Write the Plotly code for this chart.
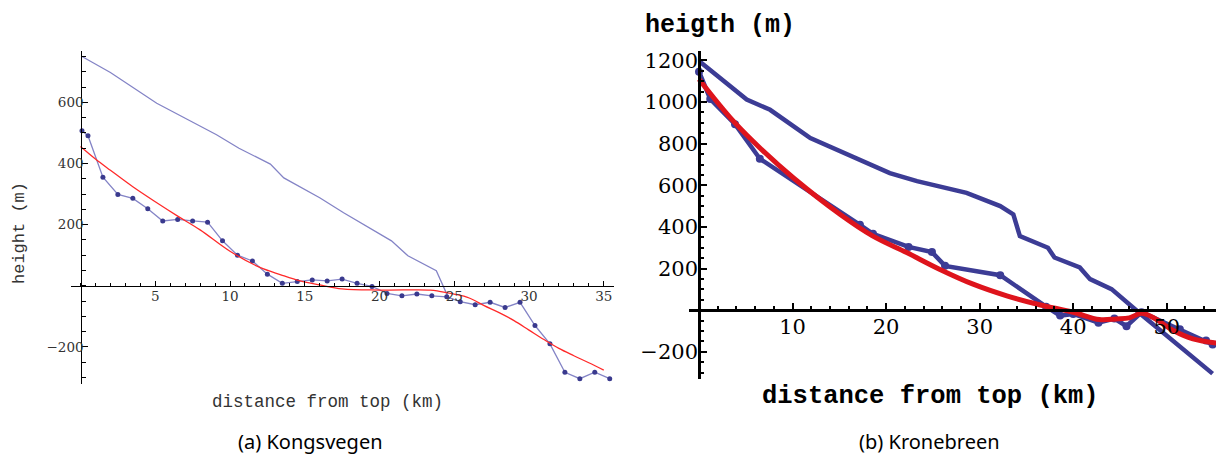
import plotly.graph_objects as go

# ---------------- data: (a) Kongsvegen ----------------
kv_top_x = [0.1, 2.0, 5.1, 9.1, 10.6, 12.7, 13.6, 16.0, 17.6, 20.8, 21.9, 23.8, 24.6]
kv_top_y = [750, 698, 597, 494, 450, 398, 353, 288, 239, 147, 98, 49, -38]

kv_bed_x = [0.1, 0.5, 1.5, 2.5, 3.5, 4.5, 5.5, 6.5, 7.5, 8.5, 9.5, 10.5, 11.5, 12.5,
            13.5, 14.5, 15.5, 16.5, 17.5, 18.5, 19.5, 20.5, 21.5, 22.5, 23.5, 24.5,
            25.4, 26.4, 27.4, 28.4, 29.4, 30.4, 31.4, 32.4, 33.4, 34.4, 35.4]
kv_bed_y = [507, 491, 355, 299, 286, 252, 212, 217, 212, 208, 147, 100, 81, 38,
            8, 14, 19, 16, 22, 8, -2, -25, -33, -27, -33, -36,
            -52, -62, -54, -71, -54, -130, -190, -283, -304, -283, -304]

kv_fit_x = [0, 1, 2, 3.5, 5, 6.5, 8, 10, 12, 13.4, 14.7, 16, 17.5, 20, 23.4, 24, 25,
            26, 27, 28, 29, 30, 31, 32, 33, 34, 35]
kv_fit_y = [456, 415, 378, 324, 275, 228, 183, 113, 60, 36, 16, 3, -10, -14, -14, -18, -27,
            -40, -65, -88, -114, -145, -176, -205, -229, -252, -276]

kv_xticks = [5, 10, 15, 20, 25, 30, 35]
kv_yticks = [-200, 200, 400, 600]

# ---------------- data: (b) Kronebreen ----------------
kb_top_x = [0.1, 5.1, 7.6, 11.9, 20.4, 23.3, 28.6, 32.2, 33.6, 34.3, 37.3, 38.0,
            40.7, 41.8, 44.1, 46.4, 47.3, 54.9]
kb_top_y = [1194, 1012, 963, 827, 659, 620, 564, 500, 460, 356, 300, 253,
            205, 149, 101, 13, -22, -305]

kb_bed_x = [0.0, 1.2, 3.85, 6.5, 17.2, 18.6, 22.4, 24.9, 26.3, 32.2, 37.1, 38.6,
            40.0, 42.7, 44.4, 45.7, 47.3, 51.4, 54.2, 54.9]
kb_bed_y = [1146, 1015, 894, 728, 410, 367, 304, 279, 213, 168, 17, -26,
            -18, -60, -40, -77, -10, -92, -146, -165]

kb_fit_x = [0, 3.7, 6.9, 10.1, 15.1, 18.6, 22.2, 25.7, 29.3, 32.9, 36.4, 40.0,
            42.8, 44.6, 46.0, 47.3, 48.5, 50.7, 52.8, 56.0]
kb_fit_y = [1110, 907, 763, 635, 460, 356, 277, 197, 125, 69, 26, -10,
            -45, -42, -37, -15, -34, -98, -138, -162]

kb_xticks = [10, 20, 30, 40, 50]
kb_yticks = [-200, 200, 400, 600, 800, 1000, 1200]

# ---------------- geometry (reference pixels) ----------------
OFF = 8                      # page body margin
FW, FH = 1224 - OFF, 459 - OFF

def px(x):
    return (x - OFF) / FW

def py(y):
    return 1 - (y - OFF) / FH

# left panel
L_x0, L_ppx = 80.5, 14.95      # pixel of x=0, pixels per km
L_y0, L_ppy = 285.0, 0.307     # pixel of y=0, pixels per m
L_dom_x = (71, 614)
L_dom_y = (49, 384)
L_xr = [(L_dom_x[0] - L_x0) / L_ppx, (L_dom_x[1] - L_x0) / L_ppx]
L_yr = [-(L_dom_y[1] - L_y0) / L_ppy, (L_y0 - L_dom_y[0]) / L_ppy]

# right panel
R_x0, R_ppx = 699.0, 9.355
R_y0, R_ppy = 309.5, 0.209
R_dom_x = (689, 1224)
R_dom_y = (49, 379)
R_xr = [(R_dom_x[0] - R_x0) / R_ppx, (R_dom_x[1] - R_x0) / R_ppx]
R_yr = [-(R_dom_y[1] - R_y0) / R_ppy, (R_y0 - R_dom_y[0]) / R_ppy]

fig = go.Figure()

L_BLUE_LINE = "#8484c6"
L_BLUE_MARK = "#3a3a8e"
L_RED = "#ff2a2a"
R_BLUE = "#3c3c95"
R_RED = "#de141c"

# left traces
fig.add_trace(go.Scatter(x=kv_top_x, y=kv_top_y, mode="lines",
                         line=dict(color=L_BLUE_LINE, width=1.3),
                         xaxis="x", yaxis="y", showlegend=False, hoverinfo="skip"))
fig.add_trace(go.Scatter(x=kv_bed_x, y=kv_bed_y, mode="lines+markers",
                         line=dict(color=L_BLUE_LINE, width=1.3),
                         marker=dict(color=L_BLUE_MARK, size=5),
                         xaxis="x", yaxis="y", showlegend=False, hoverinfo="skip"))
fig.add_trace(go.Scatter(x=kv_fit_x, y=kv_fit_y, mode="lines", line_shape="spline",
                         line=dict(color=L_RED, width=1.3),
                         xaxis="x", yaxis="y", showlegend=False, hoverinfo="skip"))

# right traces
fig.add_trace(go.Scatter(x=kb_top_x, y=kb_top_y, mode="lines",
                         line=dict(color=R_BLUE, width=4.5),
                         xaxis="x2", yaxis="y2", showlegend=False, hoverinfo="skip"))
fig.add_trace(go.Scatter(x=kb_bed_x, y=kb_bed_y, mode="lines+markers",
                         line=dict(color=R_BLUE, width=4.5),
                         marker=dict(color=R_BLUE, size=8),
                         xaxis="x2", yaxis="y2", showlegend=False, hoverinfo="skip"))
fig.add_trace(go.Scatter(x=kb_fit_x, y=kb_fit_y, mode="lines", line_shape="spline",
                         line=dict(color=R_RED, width=5),
                         xaxis="x2", yaxis="y2", showlegend=False, hoverinfo="skip"))

L_TICKFONT = dict(family="DejaVu Serif", size=13.5, color="#333333")
R_TICKFONT = dict(family="DejaVu Serif", size=21, color="#000000")

common = dict(showgrid=False, zeroline=False, showline=True, linecolor="black",
              ticks="inside", tickcolor="black", tickmode="array", fixedrange=True)

fig.update_layout(
    width=FW, height=FH, autosize=False,
    margin=dict(l=0, r=0, t=0, b=0),
    paper_bgcolor="white", plot_bgcolor="white",
    xaxis=dict(domain=[px(L_dom_x[0]), px(L_dom_x[1])], range=L_xr,
               anchor="free", position=py(L_y0),
               tickvals=kv_xticks, ticklen=5, tickwidth=1, linewidth=1.3,
               tickfont=L_TICKFONT, ticklabelstandoff=-2,
               minor=dict(tick0=0, dtick=1, ticks="inside", ticklen=3,
                          tickwidth=1, tickcolor="black"),
               **common),
    yaxis=dict(domain=[py(L_dom_y[1]), py(L_dom_y[0])], range=L_yr,
               anchor="free", position=px(L_x0),
               tickvals=kv_yticks, ticklen=6, tickwidth=1, linewidth=1.3,
               tickfont=L_TICKFONT, ticklabelstandoff=-6,
               minor=dict(tick0=0, dtick=50, ticks="inside", ticklen=4,
                          tickwidth=1, tickcolor="black"),
               **common),
    xaxis2=dict(domain=[px(R_dom_x[0]), px(R_dom_x[1])], range=R_xr,
                anchor="free", position=py(R_y0),
                tickvals=kb_xticks, ticklen=6, tickwidth=2, linewidth=2.6,
                tickfont=R_TICKFONT, ticklabelstandoff=-3,
                minor=dict(tick0=0, dtick=2, ticks="inside", ticklen=3.5,
                           tickwidth=2, tickcolor="black"),
                **common),
    yaxis2=dict(domain=[py(R_dom_y[1]), py(R_dom_y[0])], range=R_yr,
                anchor="free", position=px(R_x0),
                tickvals=kb_yticks, ticklen=6, tickwidth=2, linewidth=2.6,
                tickfont=R_TICKFONT, ticklabelstandoff=-4,
                minor=dict(tick0=0, dtick=50, ticks="inside", ticklen=3.5,
                           tickwidth=2, tickcolor="black"),
                **common),
)

MONO = "Liberation Mono, Courier New, monospace"
CAP = "Noto Sans, Open Sans, sans-serif"
annots = [
    dict(text="height (m)", x=px(19), y=py(232), textangle=-90,
         font=dict(family=MONO, size=17, color="#333333")),
    dict(text="distance from top (km)", x=px(327), y=py(402),
         font=dict(family=MONO, size=17.5, color="#333333")),
    dict(text="heigth (m)", x=px(643), y=py(24), xanchor="left",
         font=dict(family=MONO, size=25, color="#000000", weight="bold")),
    dict(text="distance from top (km)", x=px(930), y=py(396),
         font=dict(family=MONO, size=25.5, color="#000000", weight="bold")),
    dict(text="(a) Kongsvegen", x=px(310), y=py(441),
         font=dict(family=CAP, size=20, color="#000000")),
    dict(text="(b) Kronebreen", x=px(929), y=py(441),
         font=dict(family=CAP, size=20, color="#000000")),
]
for a in annots:
    a.setdefault("xanchor", "center")
    a.update(xref="paper", yref="paper", yanchor="middle", showarrow=False)
    fig.add_annotation(**a)

fig.write_html("out.html")
